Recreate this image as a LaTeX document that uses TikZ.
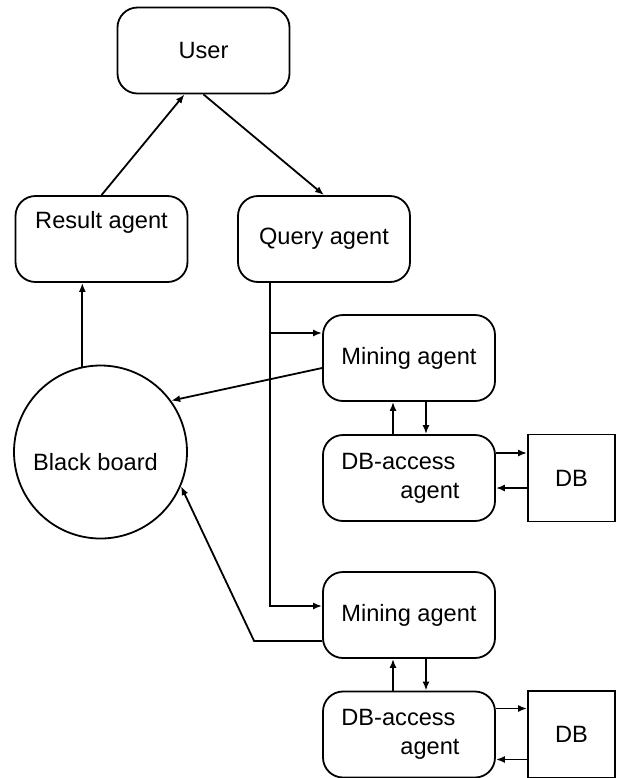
\documentclass[tikz,border=0pt]{standalone}
\usepackage{fontspec}
\setmainfont{Liberation Sans}
\usetikzlibrary{positioning, shapes, arrows.meta}

\begin{document}
\begin{tikzpicture}[x=0.5pt, y=-0.5pt, line width=0.9pt,
  >={Latex[length=4.5pt, width=3.5pt]},
  font=\fontsize{11.8}{14.5}\selectfont,
  agent/.style={draw, rounded corners=10pt, minimum width=86pt,
    minimum height=43pt, inner sep=0pt, align=center},
  store/.style={draw, minimum size=43.5pt, inner sep=0pt}]
\useasboundingbox (0, 0) rectangle (618, 778);

\node[agent] (user) at (203.5, 50.5) {User};
\node[agent] (result) at (101.5, 239) {Result agent\\\strut};
\node[agent] (query) at (324, 239) {Query agent};
\node[draw, circle, minimum size=86.5pt, inner sep=0pt,
  text height=18.6pt, text depth=0pt] (bb) at (100.5, 452) {Black board\hspace*{5pt}};

\node[agent] (mining1) at (409, 358) {Mining agent};
\node[agent, align=right] (dbacc1) at (409, 478)
  {DB-access\hspace*{10.5pt}\\agent\hspace*{8.5pt}};
\node[store] (db1) at (571.5, 478) {DB};

\node[agent] (mining2) at (409, 615) {Mining agent};
\node[agent, align=right] (dbacc2) at (409, 734.5)
  {DB-access\hspace*{10.5pt}\\agent\hspace*{8.5pt}};
\node[store] (db2) at (571.5, 734.5) {DB};

% user level
\draw[->] (result.north) -- ([xshift=-9.5pt]user.south);
\draw[->] (user.south) -- (query.north);
\draw[->] (bb.102) -- (bb.102 |- result.south);

% query agent feeds both mining agents
\coordinate (qs) at ([xshift=-27pt]query.south);
\coordinate (m1in) at ([yshift=12.5pt]mining1.west);
\draw[->] (qs) |- ([yshift=4.5pt]mining2.west);
\draw[->] (qs |- m1in) -- (m1in);

% results go to the black board
\draw[->] ([yshift=-5pt]mining1.west) -- (bb.36);
\draw[->] ([yshift=-13pt]mining2.west) -- ++(-68, 0) -- (bb.-23);

% mining <-> db access <-> db
\draw[->] ([xshift=-8pt]dbacc1.north) -- ([xshift=-8pt]mining1.south);
\draw[->] ([xshift=8.5pt]mining1.south) -- ([xshift=8.5pt]dbacc1.north);
\draw[->] ([yshift=12.5pt]dbacc1.east) -- ([yshift=12.5pt]db1.west);
\draw[->] ([yshift=-5pt]db1.west) -- ([yshift=-5pt]dbacc1.east);

\draw[->] ([xshift=-8pt]dbacc2.north) -- ([xshift=-8pt]mining2.south);
\draw[->] ([xshift=8.5pt]mining2.south) -- ([xshift=8.5pt]dbacc2.north);
\draw[->] ([yshift=13pt]dbacc2.east) -- ([yshift=13pt]db2.west);
\draw[->] ([yshift=-12.5pt]db2.west) -- ([yshift=-12.5pt]dbacc2.east);
\end{tikzpicture}
\end{document}
